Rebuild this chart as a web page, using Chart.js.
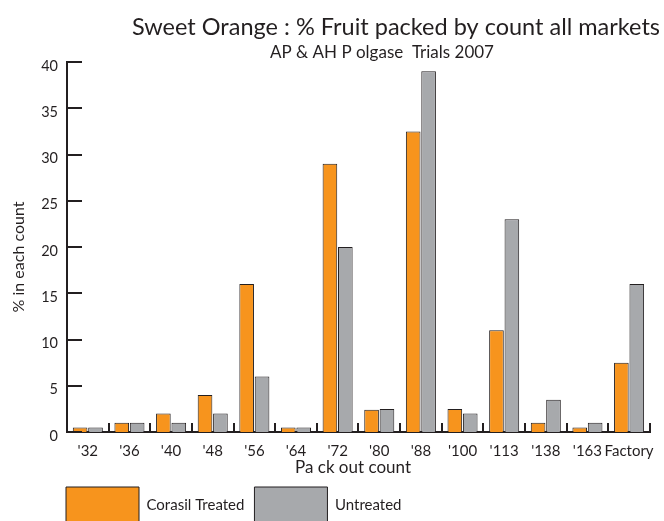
<!DOCTYPE html>
<html>
<head>
<meta charset="utf-8">
<script src="https://cdn.jsdelivr.net/npm/chart.js@4"></script>
<style>
  html, body { margin: 0; padding: 0; overflow: hidden; background: #fff; }
</style>
</head>
<body>
<canvas id="chart1"></canvas>
<script>
// data
const categories = ["'32", "'36", "'40", "'48", "'56", "'64", "'72", "'80", "'88", "'100", "'113", "'138", "'163", 'Factory'];
const corasilTreated = [0.5, 1, 2, 4, 16, 0.5, 29, 2.4, 32.5, 2.5, 11, 1, 0.5, 7.5];
const untreated = [0.5, 1, 1, 2, 6, 0.5, 20, 2.5, 39, 2, 23, 3.5, 1, 16];
const yMax = 40;
const yStep = 5;

const dark = '#231f20';
const font = 'Lato';

const canvas = document.getElementById('chart1');
canvas.width = 664;
canvas.height = 533;
const ctx = canvas.getContext('2d');

// ticks drawn inside the plot, titles placed by hand
const decor = {
  id: 'decor',
  afterLayout(chart) {
    const lg = chart.legend;
    lg.left = 56;
    lg.right = 56 + lg.width;
  },
  afterDatasetsDraw(chart) {
    const c = chart.ctx;
    const a = chart.chartArea;
    const xs = chart.scales.x;
    const ys = chart.scales.y;
    c.save();
    c.strokeStyle = dark;
    c.lineWidth = 2;
    ys.ticks.forEach(function (t) {
      const py = Math.round(ys.getPixelForValue(t.value));
      c.beginPath();
      c.moveTo(a.left, py);
      c.lineTo(a.left + 15, py);
      c.stroke();
    });
    for (let i = 0; i < categories.length; i++) {
      const px = Math.round(xs.getPixelForValue(i + 0.5));
      c.beginPath();
      c.moveTo(px, a.bottom - 9);
      c.lineTo(px, a.bottom + 1);
      c.stroke();
    }
    c.fillStyle = dark;
    c.textAlign = 'center';
    c.textBaseline = 'middle';
    c.font = '23.5px ' + font;
    c.fillText('Sweet Orange : % Fruit packed by count all markets', 396, 27);
    c.font = '17px ' + font;
    c.fillText('AP & AH P olgase  Trials 2007', 382, 53);
    c.font = '17px ' + font;
    c.fillText('Pa ck out count', 353, 468);
    c.translate(19, 257);
    c.rotate(-Math.PI / 2);
    c.font = '16px ' + font;
    c.fillText('% in each count', 0, 0);
    c.restore();
  },
};

new Chart(ctx, {
  type: 'bar',
  data: {
    labels: categories,
    datasets: [
      {
        label: 'Corasil Treated',
        data: corasilTreated,
        backgroundColor: '#f7941d',
        borderColor: dark,
        borderWidth: 1,
        categoryPercentage: 0.74,
        barPercentage: 0.95,
      },
      {
        label: 'Untreated',
        data: untreated,
        backgroundColor: '#a7a9ac',
        borderColor: dark,
        borderWidth: 1,
        categoryPercentage: 0.74,
        barPercentage: 0.95,
      },
    ],
  },
  plugins: [decor],
  options: {
    responsive: false,
    maintainAspectRatio: false,
    animation: false,
    layout: { padding: { top: 62, right: 11, left: 0, bottom: 0 } },
    plugins: {
      tooltip: { enabled: false },
      legend: {
        position: 'bottom',
        align: 'start',
        labels: {
          boxWidth: 73,
          boxHeight: 36,
          padding: 10,
          color: dark,
          font: { family: font, size: 15 },
        },
      },
    },
    scales: {
      x: {
        grid: { display: false, drawTicks: false },
        border: { display: true, color: dark, width: 2 },
        ticks: { color: dark, padding: 10, font: { family: font, size: 15 }, maxRotation: 0, autoSkip: false },
        afterFit: function (scale) { scale.height = 45; },
      },
      y: {
        min: 0,
        max: yMax,
        grid: { display: false, drawTicks: false },
        border: { display: true, color: dark, width: 2 },
        ticks: { stepSize: yStep, color: dark, padding: 9, labelOffset: 4, font: { family: font, size: 14.5 } },
        afterFit: function (scale) { scale.width = 67; },
      },
    },
  },
});
</script>
</body>
</html>
